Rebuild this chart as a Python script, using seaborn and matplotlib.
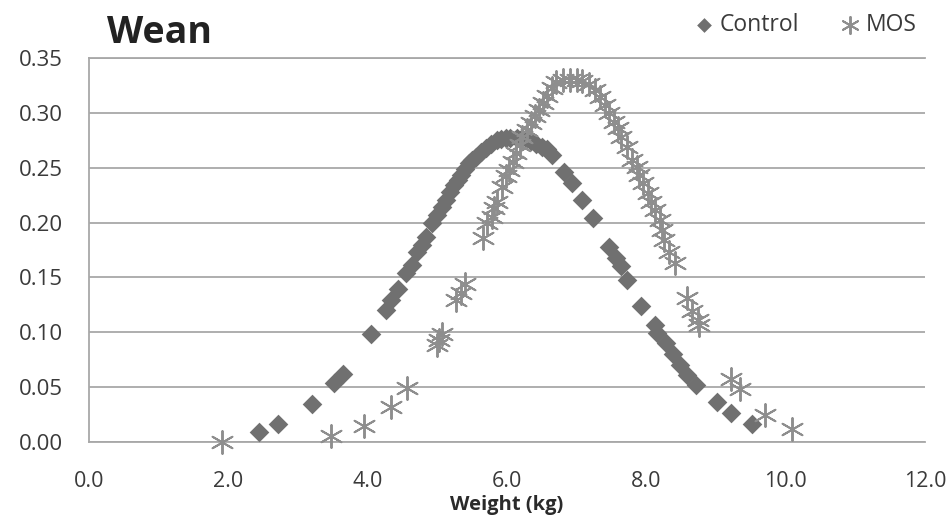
import matplotlib
matplotlib.use("Agg")
import matplotlib.pyplot as plt
import seaborn as sns
import pandas as pd
from matplotlib.ticker import FormatStrFormatter

# Weaning weight distribution (density by body weight, kg)
control_weight = [2.44, 2.72, 3.20, 3.52, 3.64, 4.05, 4.27, 4.34, 4.43, 4.55,
                  4.63, 4.71, 4.78, 4.84, 4.93, 5.00, 5.06, 5.13, 5.18, 5.24,
                  5.29, 5.34, 5.40, 5.46, 5.50, 5.56, 5.63, 5.70, 5.77, 5.85,
                  5.92, 5.99, 6.05, 6.14, 6.21, 6.28, 6.35, 6.42, 6.50, 6.57,
                  6.64, 6.82, 6.94, 7.08, 7.23, 7.47, 7.57, 7.64, 7.72, 7.93,
                  8.12, 8.16, 8.28, 8.38, 8.49, 8.59, 8.72, 9.01, 9.22, 9.51]
control_density = [0.009, 0.016, 0.035, 0.054, 0.062, 0.098, 0.120, 0.129, 0.139, 0.154,
                   0.161, 0.173, 0.180, 0.187, 0.200, 0.207, 0.214, 0.221, 0.228, 0.234,
                   0.239, 0.243, 0.249, 0.254, 0.257, 0.260, 0.264, 0.268, 0.272, 0.275,
                   0.276, 0.277, 0.277, 0.277, 0.277, 0.276, 0.274, 0.272, 0.269, 0.267,
                   0.262, 0.246, 0.236, 0.221, 0.204, 0.178, 0.168, 0.160, 0.148, 0.124,
                   0.107, 0.099, 0.090, 0.080, 0.070, 0.061, 0.052, 0.036, 0.026, 0.016]

mos_weight = [1.91, 3.48, 3.95, 4.34, 4.57, 4.99, 5.03, 5.06, 5.27, 5.34,
              5.40, 5.65, 5.72, 5.78, 5.82, 5.86, 5.93, 5.99, 6.03, 6.08,
              6.13, 6.18, 6.22, 6.28, 6.35, 6.40, 6.46, 6.51, 6.57, 6.64,
              6.71, 6.80, 6.90, 7.00, 7.08, 7.18, 7.26, 7.33, 7.40, 7.47,
              7.54, 7.59, 7.64, 7.72, 7.80, 7.86, 7.90, 7.95, 8.02, 8.07,
              8.12, 8.19, 8.23, 8.26, 8.33, 8.41, 8.58, 8.66, 8.74, 8.76,
              9.22, 9.34, 9.70, 10.09]
mos_density = [0.000, 0.005, 0.015, 0.032, 0.049, 0.088, 0.093, 0.098, 0.129, 0.136,
               0.144, 0.186, 0.200, 0.205, 0.213, 0.219, 0.232, 0.242, 0.248, 0.255,
               0.263, 0.271, 0.278, 0.284, 0.291, 0.297, 0.303, 0.309, 0.315, 0.323,
               0.328, 0.330, 0.330, 0.330, 0.329, 0.326, 0.321, 0.314, 0.307, 0.300,
               0.292, 0.286, 0.278, 0.269, 0.257, 0.251, 0.243, 0.236, 0.227, 0.219,
               0.211, 0.202, 0.193, 0.184, 0.173, 0.163, 0.131, 0.119, 0.111, 0.107,
               0.057, 0.048, 0.025, 0.012]

x_ticks = [0.0, 2.0, 4.0, 6.0, 8.0, 10.0, 12.0]
y_ticks = [0.00, 0.05, 0.10, 0.15, 0.20, 0.25, 0.30, 0.35]

control_df = pd.DataFrame({"Weight (kg)": control_weight, "Density": control_density})
mos_df = pd.DataFrame({"Weight (kg)": mos_weight, "Density": mos_density})

sns.set_theme(style="white")
plt.rcParams["font.family"] = ["Open Sans", "DejaVu Sans"]

fig = plt.figure(figsize=(9.53, 5.22), dpi=100)
ax = fig.add_axes([0.0934, 0.1533, 0.8772, 0.7356])

grid_c = "#a8a8a8"
text_c = "#3a3a3a"
sns.scatterplot(data=control_df, x="Weight (kg)", y="Density", ax=ax,
                marker="D", s=100, color="#707070", edgecolor="#707070",
                linewidth=0, label="Control", clip_on=False, zorder=3)
sns.scatterplot(data=mos_df, x="Weight (kg)", y="Density", ax=ax,
                marker=(6, 2, 0), s=270, color="#8e8e8e",
                linewidth=1.4, label="MOS", clip_on=False, zorder=4)

ax.set_xlim(0, 12)
ax.set_ylim(0, 0.35)
ax.set_xticks(x_ticks)
ax.set_yticks(y_ticks)
ax.xaxis.set_major_formatter(FormatStrFormatter("%.1f"))
ax.yaxis.set_major_formatter(FormatStrFormatter("%.2f"))

ax.yaxis.grid(True, color=grid_c, linewidth=1.3)
ax.xaxis.grid(False)
ax.set_axisbelow(True)
ax.spines["right"].set_visible(False)
for side in ["left", "bottom", "top"]:
    ax.spines[side].set_color(grid_c)
    ax.spines[side].set_linewidth(1.3)

ax.tick_params(axis="y", length=0, pad=19, labelsize=16, labelcolor=text_c)
ax.tick_params(axis="x", length=0, pad=21, labelsize=15.5, labelcolor=text_c)

ax.set_ylabel("")
ax.set_xlabel("Weight (kg)", fontsize=14.5, fontweight="bold",
              color="#2a2a2a", labelpad=2)

fig.text(0.112, 1 - 43 / 522, "Wean", fontsize=27, fontweight="bold",
         color="#222222", ha="left", va="baseline")

leg = ax.legend(loc="center right", bbox_to_anchor=(0.962, 0.953),
                bbox_transform=fig.transFigure, ncol=2, frameon=False,
                fontsize=16.5, handlelength=1.0, handletextpad=0.2,
                columnspacing=1.7, markerscale=0.75, borderaxespad=0,
                borderpad=0)
for t in leg.get_texts():
    t.set_color(text_c)

fig.savefig("out.png", dpi=100)
